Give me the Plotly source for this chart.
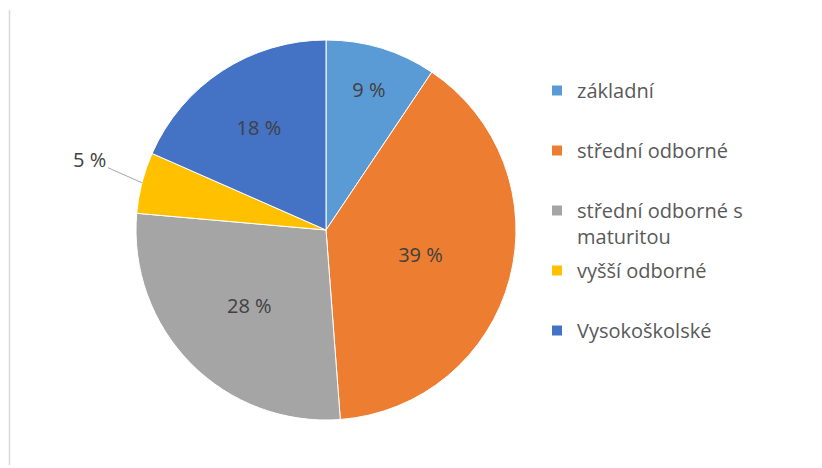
import math
import plotly.graph_objects as go

categories = ["základní", "střední odborné", "střední odborné s maturitou", "vyšší odborné", "Vysokoškolské"]
legend_names = ["základní", "střední odborné", "střední odborné s<br>maturitou", "vyšší odborné", "Vysokoškolské"]
values = [9.4, 39.4, 27.6, 5.2, 18.4]
colors = ["#5B9BD5", "#ED7D31", "#A5A5A5", "#FFC000", "#4472C4"]
outside_idx = 3  # small slice labelled outside with a leader line

FONT = "Open Sans"
OFF = 8  # page body margin
W, H = 822 - OFF, 468 - OFF
cx, cy, r = 326 - OFF, 230 - OFF, 190


def px(x):
    return (x - OFF) / W


def py(y):
    return 1 - (y - OFF) / H


templates = ["" if i == outside_idx else "%{value:.0f} %" for i in range(len(values))]

fig = go.Figure()
fig.add_trace(go.Pie(
    labels=categories,
    values=values,
    sort=False,
    direction="clockwise",
    rotation=0,
    marker=dict(colors=colors, line=dict(color="white", width=1)),
    texttemplate=templates,
    textposition="inside",
    insidetextorientation="horizontal",
    textfont=dict(family=FONT, size=20, color="#404040"),
    showlegend=False,
    automargin=False,
    hoverinfo="label+percent",
    domain=dict(x=[(cx - r) / W, (cx + r) / W], y=[(H - cy - r) / H, (H - cy + r) / H]),
))

# leader-line label for the small slice, anchored at the slice's mid-angle on the rim
total = sum(values)
start = sum(values[:outside_idx])
mid = (start + values[outside_idx] / 2) / total * 2 * math.pi
ex = cx + r * math.sin(mid)
ey = cy - r * math.cos(mid)
fig.add_annotation(
    x=ex / W, y=1 - ey / H, xref="paper", yref="paper",
    text=f"{values[outside_idx]:.0f} %", showarrow=True, arrowhead=0,
    arrowcolor="#A6A6A6", arrowwidth=1, ax=-52, ay=-23,
    font=dict(family=FONT, size=20, color="#404040"),
)

for name, col in zip(legend_names, colors):
    label = name if "<br>" in name else name + "<br>\u00a0"
    fig.add_trace(go.Scatter(
        x=[None], y=[None], mode="markers", name=label, legendgroup=name,
        marker=dict(symbol="square", size=10, color=col),
    ))

fig.add_shape(type="line", xref="paper", yref="paper",
              x0=px(9.5), x1=px(9.5), y0=py(465), y1=py(10),
              line=dict(color="#D9D9D9", width=1.5))

fig.update_layout(
    width=W, height=H,
    margin=dict(l=0, r=0, t=0, b=0),
    paper_bgcolor="white", plot_bgcolor="white",
    xaxis=dict(visible=False), yaxis=dict(visible=False),
    legend=dict(
        x=px(537), xanchor="left", y=py(71), yanchor="top",
        traceorder="grouped", tracegroupgap=5, valign="top",
        font=dict(family=FONT, size=20, color="#595959"),
        itemwidth=30, bgcolor="rgba(0,0,0,0)",
    ),
    showlegend=True,
)

fig.write_html("out.html")
